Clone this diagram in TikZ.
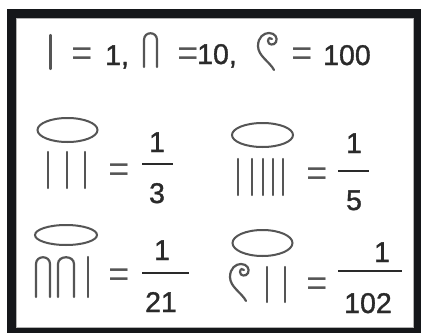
\documentclass[tikz,border=0pt]{standalone}
\usepackage{fontspec}
\setmainfont{Liberation Sans}[FakeBold=1.2]
\newfontfamily\eqfont{Liberation Sans}
\definecolor{frame}{HTML}{15171A}
\definecolor{ink}{HTML}{2A2A2A}
\definecolor{glyph}{HTML}{555555}
\begin{document}
\begin{tikzpicture}[x=1pt,y=-1pt,
  txt/.style={inner sep=0pt, anchor=base, text=ink, font=\fontsize{28.5}{30}\selectfont},
  eq/.style={inner sep=0pt, anchor=base, text=glyph, font=\eqfont\fontsize{36}{38}\selectfont},
  hg/.style={draw=glyph, line width=2.2pt, line cap=round},
  ring/.style={draw=glyph, line width=2pt},
  fbar/.style={draw=ink, line width=1.6pt}]
\useasboundingbox (0,0) rectangle (421,335);
\fill[white] (0,0) rectangle (421,335);
\fill[frame] (7,9) rectangle (421,333);
\fill[white] (16.5,18.5) rectangle (413,327);
\draw[gray!60, line width=0.8pt] (16.5,18.5) rectangle (413,327);

% row 1
\draw[hg] (50.5,35) -- (50.5,69);
\node[eq] (e1) at (82,65) {=};
\node[txt, anchor=base west] (n1) at (105,65) {1,};
\draw[hg] (144,67) -- (144,40) .. controls (144,31) and (157,31) .. (157,40) -- (157,67);
\node[eq] (e2) at (188,65) {=};
\node[txt, anchor=base west] (n10) at (197,64) {10,};
\draw[hg] (274,70) .. controls (270,62) and (258,56) .. (258,46)
  .. controls (258,37) and (264,33) .. (269,33)
  .. controls (275,33) and (278,38) .. (276,42)
  .. controls (274,46) and (268,45) .. (268,41)
  .. controls (268,38) and (271,37) .. (272,39);
\node[eq] (e3) at (302,65) {=};
\node[txt, anchor=base west] (n100) at (323,65) {100};

% row 2 left: 1/3
\draw[ring] (67.5,130) ellipse [x radius=30, y radius=12];
\foreach \x in {48,67,85} \draw[hg] (\x,152) -- (\x,188);
\node[eq] (e4) at (119,181) {=};
\node[txt] (a1) at (157,152) {1};
\draw[fbar] (142,164) -- (173,164);
\node[txt] (a3) at (157,203) {3};

% row 2 right: 1/5
\draw[ring] (262.5,135) ellipse [x radius=30.5, y radius=12];
\foreach \x in {238.3,251.7,263.3,273.3,283.3} \draw[hg] (\x,159) -- (\x,195);
\node[eq] (e5) at (317,185) {=};
\node[txt] (b1) at (354,153) {1};
\draw[fbar] (338,171) -- (369,171);
\node[txt] (b5) at (354,210) {5};

% row 3 left: 1/21
\draw[ring] (66,235) ellipse [x radius=31, y radius=10];
\draw[hg] (36,297) -- (36,264) .. controls (36,255) and (50,255) .. (50,264) -- (50,297);
\draw[hg] (58,297) -- (58,264) .. controls (58,255) and (74,255) .. (74,264) -- (74,297);
\draw[hg] (88,257) -- (88,297);
\node[eq] (e6) at (119,286) {=};
\node[txt] (c1) at (162,260) {1};
\draw[fbar] (142,273) -- (189,273);
\node[txt] (c21) at (161,312) {21};

% row 3 right: 1/102
\draw[ring] (262.5,243) ellipse [x radius=30, y radius=13];
\begin{scope}[shift={(-28,231)}]
\draw[hg] (274,70) .. controls (270,62) and (258,56) .. (258,46)
  .. controls (258,37) and (264,33) .. (269,33)
  .. controls (275,33) and (278,38) .. (276,42)
  .. controls (274,46) and (268,45) .. (268,41)
  .. controls (268,38) and (271,37) .. (272,39);
\end{scope}
\draw[hg] (267,267) -- (267,302);
\draw[hg] (285,267) -- (285,302);
\node[eq] (e7) at (317,295) {=};
\node[txt] (d1) at (382,262) {1};
\draw[fbar] (338,271) -- (402,271);
\node[txt] (d102) at (368,313) {102};
\end{tikzpicture}
\end{document}
